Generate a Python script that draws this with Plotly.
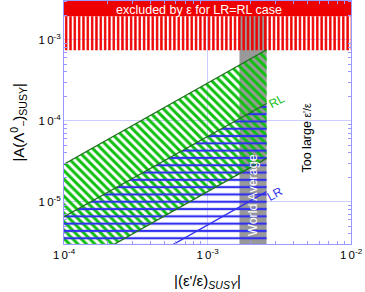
import plotly.graph_objects as go

# ---------------- data ----------------
x_range = [1e-4, 1e-2]            # |(eps'/eps)_SUSY| axis
y_range = [3e-6, 3e-3]            # |A(Lambda)_SUSY| axis
band_x = [1e-4, 2.58e-3]          # x span of the RL / LR bands
rl_upper = [2.9e-5, 7.5e-4]       # RL band upper edge
rl_lower = [1.33e-6, 3.42e-5]     # RL band lower edge
lr_upper = [6.5e-6, 1.63e-4]      # LR band upper edge
lr_line = [5.1e-7, 1.33e-5]       # LR line
world_avg = [1.67e-3, 2.58e-3]    # world average of eps'/eps
excl_solid = [1.94e-3, 3e-3]      # excluded by eps (solid)
excl_hatch = [7.4e-4, 1.94e-3]    # excluded by eps (hatched)
x_tick_vals = [1e-4, 1e-3, 1e-2]
x_tick_text = ["1\u20090<sup>-4</sup>", "1\u20090<sup>-3</sup>", "1\u20090<sup>-2</sup>"]
y_tick_vals = [1e-5, 1e-4, 1e-3]
y_tick_text = ["1\u20090<sup>-5</sup>", "1\u20090<sup>-4</sup>", "1\u20090<sup>-3</sup>"]
minor_x = [m * 10.0 ** e for e in (-4, -3) for m in range(2, 10)]
minor_y = [m * 10.0 ** e for e in (-6, -5, -4, -3) for m in range(2, 10)]

RED = "#ee0000"
GREEN = "#10c010"
DKGREEN = "#207020"
BLUE = "#3030ee"
GRAY = "#999999"
AXC = "#9999ff"
GRIDC = "#ccccff"
FONT = "Liberation Sans, Arial, sans-serif"

fig = go.Figure()
none = "rgba(0,0,0,0)"

def poly(xs, ys, **kw):
    fig.add_trace(go.Scatter(x=xs, y=ys, mode="lines", fill="toself",
                             line=dict(width=0), hoverinfo="skip",
                             showlegend=False, **kw))

# world average band
poly([world_avg[0], world_avg[1], world_avg[1], world_avg[0], world_avg[0]],
     [y_range[0], y_range[0], excl_solid[1], excl_solid[1], y_range[0]],
     fillcolor=GRAY)

# RL band (green diagonal hatch)
poly([band_x[0], band_x[1], band_x[1], band_x[0], band_x[0]],
     [rl_upper[0], rl_upper[1], rl_lower[1], rl_lower[0], rl_upper[0]],
     fillcolor=none,
     fillpattern=dict(shape="\\", size=6, solidity=0.5, fgcolor=GREEN,
                      fgopacity=1, bgcolor=none))

# LR band (blue horizontal hatch)
poly([band_x[0], band_x[1], band_x[1], band_x[0], band_x[0]],
     [lr_upper[0], lr_upper[1], y_range[0], y_range[0], lr_upper[0]],
     fillcolor=none,
     fillpattern=dict(shape="-", size=7.3, solidity=0.3, fgcolor=BLUE,
                      fgopacity=1, bgcolor=none))

# excluded by eps: hatched and solid
poly([x_range[0], x_range[1], x_range[1], x_range[0], x_range[0]],
     [excl_hatch[0], excl_hatch[0], excl_hatch[1], excl_hatch[1], excl_hatch[0]],
     fillcolor=none,
     fillpattern=dict(shape="|", size=4.33, solidity=0.55, fgcolor=RED,
                      fgopacity=1, bgcolor=none))
poly([x_range[0], x_range[1], x_range[1], x_range[0], x_range[0]],
     [excl_solid[0], excl_solid[0], excl_solid[1], excl_solid[1], excl_solid[0]],
     fillcolor=RED)

# boundary lines
for ys, col in ((rl_upper, DKGREEN), (lr_upper, DKGREEN), (rl_lower, DKGREEN), (lr_line, BLUE)):
    fig.add_trace(go.Scatter(x=band_x, y=ys, mode="lines",
                             line=dict(color=col, width=1.3),
                             hoverinfo="skip", showlegend=False))

ax_common = dict(type="log", showline=True, linecolor=AXC, linewidth=1,
                 showgrid=True, gridcolor=GRIDC, gridwidth=1, zeroline=False,
                 ticks="", mirror="allticks", automargin=False,
                 tickfont=dict(family=FONT, size=11.5, color="black"))
fig.update_xaxes(range=[-4, -2], tickmode="array", tickvals=x_tick_vals,
                 ticktext=x_tick_text,
                 minor=dict(tickmode="array", tickvals=minor_x, ticks="inside",
                            ticklen=3, tickcolor=AXC, showgrid=False),
                 **ax_common)
fig.update_yaxes(range=[-5.5229, -2.5229], tickmode="array", tickvals=y_tick_vals,
                 ticktext=y_tick_text,
                 minor=dict(tickmode="array", tickvals=minor_y, ticks="inside",
                            ticklen=3, tickcolor=AXC, showgrid=False),
                 **ax_common)

ann = []
ann.append(dict(xref="paper", yref="paper", x=-0.160, y=0.5, textangle=-90,
                text="|A(Λ<sup>0</sup><sub>−</sub>)<sub>SUSY</sub>|",
                font=dict(family=FONT, size=15, color="black"),
                showarrow=False, xanchor="center", yanchor="middle"))
ann.append(dict(xref="paper", yref="paper", x=0.50, y=-0.155,
                text="|(ε'/ε)<sub><i>SUSY</i></sub>|",
                font=dict(family=FONT, size=15, color="black"),
                showarrow=False, xanchor="center", yanchor="middle"))
ann.append(dict(x=-3.059, y=-2.633, text="excluded by ε for LR=RL case",
                font=dict(family=FONT, size=12.5, color="white"),
                showarrow=False, xanchor="center", yanchor="middle"))
ann.append(dict(x=-2.516, y=-3.760, text="RL", textangle=-29,
                font=dict(family=FONT, size=12, color=GREEN),
                showarrow=False, xanchor="center", yanchor="middle"))
ann.append(dict(x=-2.530, y=-4.905, text="LR", textangle=-29,
                font=dict(family=FONT, size=12, color=BLUE),
                showarrow=False, xanchor="center", yanchor="middle"))
ann.append(dict(x=-2.683, y=-4.917, text="World Average", textangle=-90,
                font=dict(family=FONT, size=12.5, color="white"),
                showarrow=False, xanchor="center", yanchor="middle"))
ann.append(dict(x=-2.307, y=-4.209, text="Too large <span style='font-size:10.5px'>ε'/ε</span>",
                textangle=-90,
                font=dict(family=FONT, size=12.5, color="black"),
                showarrow=False, xanchor="center", yanchor="middle"))

fig.update_layout(template="none", width=365, height=292, autosize=False,
                  margin=dict(l=64, r=14, t=1, b=48, pad=0),
                  paper_bgcolor="white", plot_bgcolor="white",
                  annotations=ann, showlegend=False,
                  font=dict(family=FONT))

fig.write_html("out.html", config={"displayModeBar": False},
               post_script="document.body.style.margin='0px';")
